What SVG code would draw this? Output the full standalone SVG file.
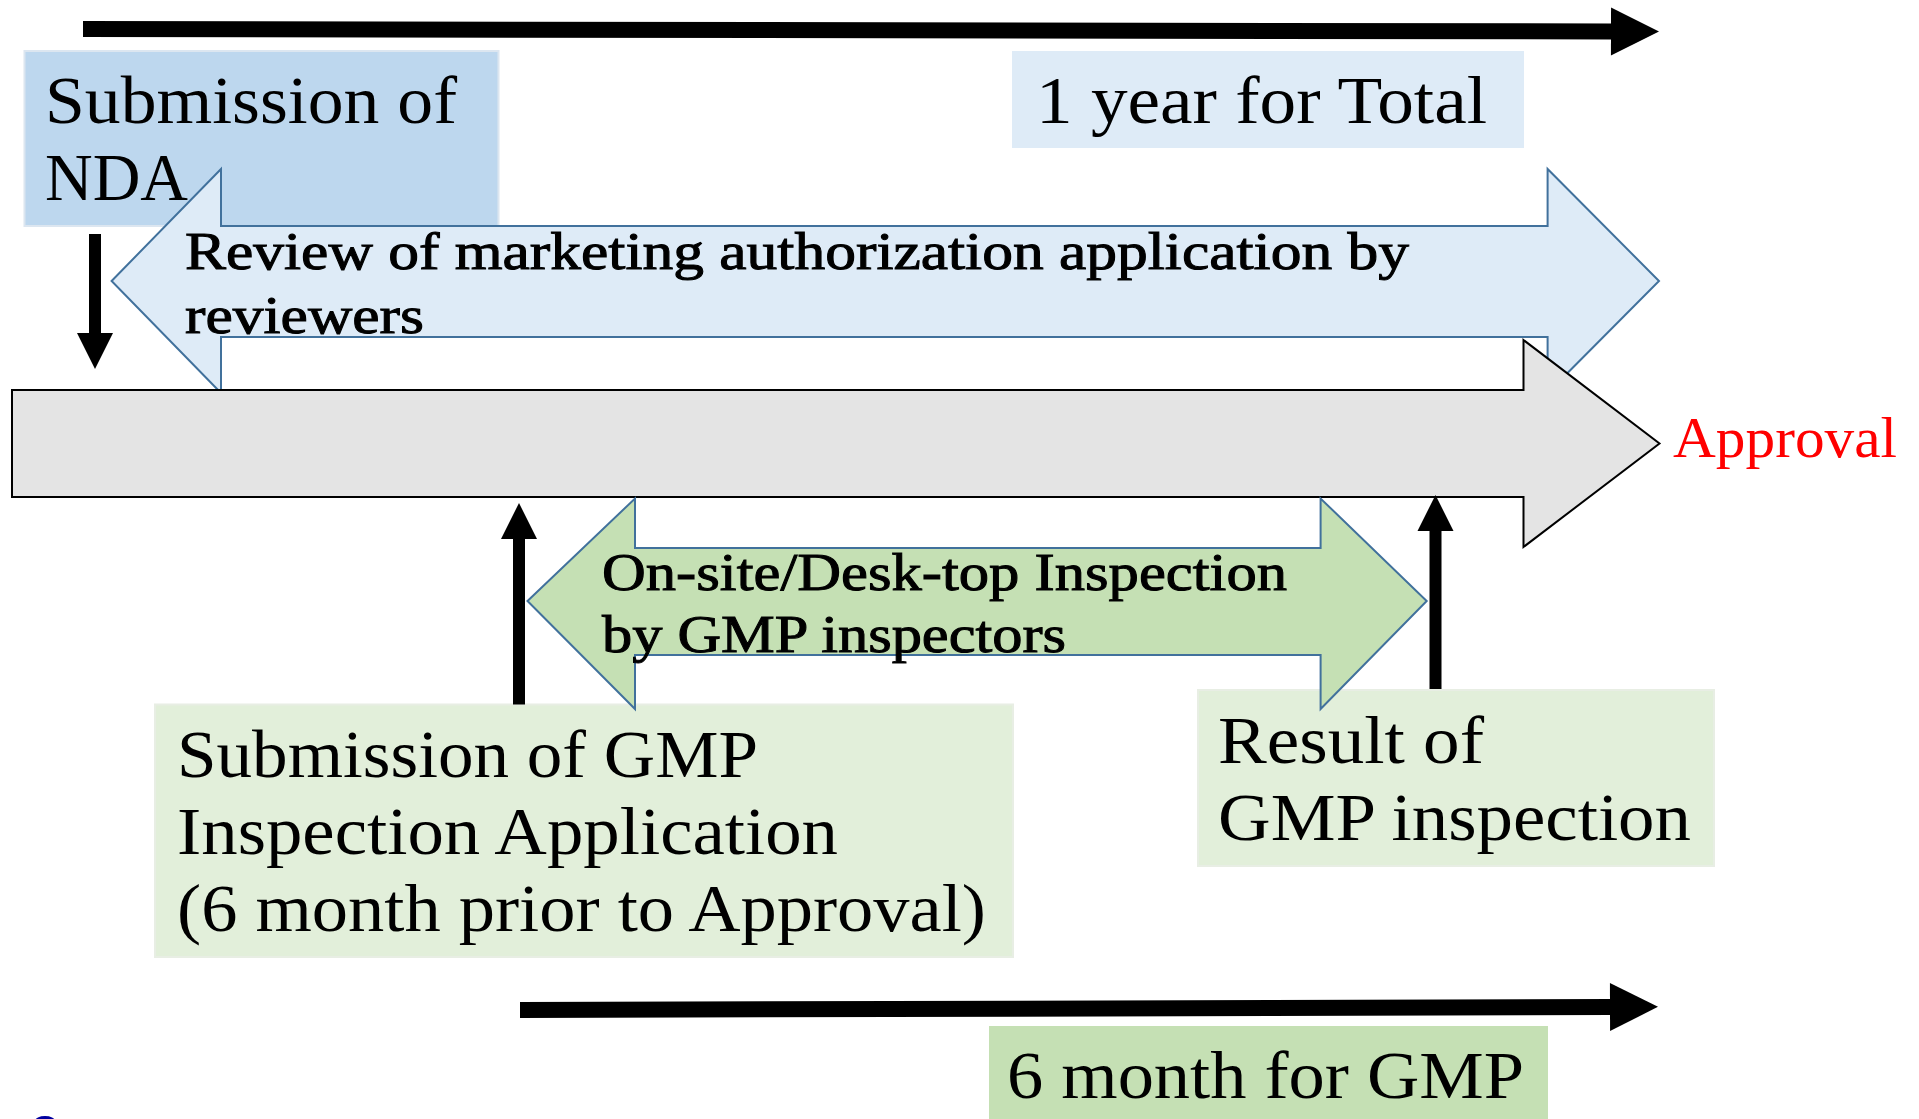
<svg xmlns="http://www.w3.org/2000/svg" width="1919" height="1119" viewBox="0 0 1919 1119">
<style>
.t{font-family:"Liberation Serif","Times New Roman",serif;font-size:68px;fill:#000}
.b{font-family:"Liberation Serif","Times New Roman",serif;font-size:53px;fill:#000;stroke:#000;stroke-width:1}
.blk{stroke:#000;fill:none}
</style>
<defs>
<marker id="ah" markerUnits="strokeWidth" markerWidth="3" markerHeight="3" refX="0" refY="1.5" orient="auto" overflow="visible">
<path d="M0,0 L3,1.5 L0,3 z" fill="#000"/>
</marker>
</defs>
<rect width="1919" height="1119" fill="#fff"/>

<g id="nda">
<rect x="24.5" y="51" width="474" height="175" fill="#BDD7EE" stroke="#DCE6F0" stroke-width="2"/>
</g>
<g id="total">
<rect x="1012" y="51" width="512" height="97" fill="#DEEBF7"/>
<text class="t" x="1036" y="123" textLength="451" lengthAdjust="spacingAndGlyphs">1 year for Total</text>
</g>
<g id="review">
<polygon points="111.6,281 221,169 221,226 1547.6,226 1547.6,169 1659,281 1547.6,393 1547.6,337 221,337 221,393" fill="#DEEBF7" stroke="#41719C" stroke-width="2"/>
<text class="b" x="185" y="269" textLength="1224" lengthAdjust="spacingAndGlyphs">Review of marketing authorization application by</text>
<text class="b" x="185" y="333" textLength="239" lengthAdjust="spacingAndGlyphs">reviewers</text>
</g>
<g id="nda-text">
<text class="t" x="45" y="123" textLength="412" lengthAdjust="spacingAndGlyphs">Submission of</text>
<text class="t" x="45" y="200" textLength="143" lengthAdjust="spacingAndGlyphs">NDA</text>
</g>
<g id="timeline">
<polygon points="12,390 1523.5,390 1523.5,340 1659.5,443.5 1523.5,547 1523.5,497 12,497" fill="#E4E4E4" stroke="#000" stroke-width="2"/>
</g>
<g id="approval">
<text x="1673" y="457" font-family="Liberation Serif, Times New Roman, serif" font-size="56" fill="#FF0000" textLength="224" lengthAdjust="spacingAndGlyphs">Approval</text>
</g>
<g id="gmp-submission">
<rect x="155" y="704.5" width="858" height="252.5" fill="#E2EFDA" stroke="#E8EEE4" stroke-width="2"/>
<text class="t" x="177" y="777" textLength="581" lengthAdjust="spacingAndGlyphs">Submission of GMP</text>
<text class="t" x="177" y="854" textLength="661" lengthAdjust="spacingAndGlyphs">Inspection Application</text>
<text class="t" x="177" y="931" textLength="809" lengthAdjust="spacingAndGlyphs">(6 month prior to Approval)</text>
</g>
<g id="gmp-result">
<rect x="1198" y="690" width="516" height="176" fill="#E2EFDA" stroke="#E8EEE4" stroke-width="2"/>
<text class="t" x="1218" y="763" textLength="266" lengthAdjust="spacingAndGlyphs">Result of</text>
<text class="t" x="1218" y="840" textLength="473" lengthAdjust="spacingAndGlyphs">GMP inspection</text>
</g>
<g id="inspection">
<polygon points="527.5,601 635,498.5 635,548 1320.6,548 1320.6,498.5 1426.7,601 1320.6,709 1320.6,655 635,655 635,709" fill="#C5E0B4" stroke="#41719C" stroke-width="2"/>
<text class="b" x="602" y="590" textLength="685" lengthAdjust="spacingAndGlyphs">On-site/Desk-top Inspection</text>
<text class="b" x="602" y="652" textLength="464" lengthAdjust="spacingAndGlyphs">by GMP inspectors</text>
</g>
<g id="gmp-period">
<rect x="989" y="1026" width="559" height="100" fill="#C5E0B4"/>
<text class="t" x="1007" y="1098" textLength="517" lengthAdjust="spacingAndGlyphs">6 month for GMP</text>
</g>
<g id="connectors">
<line class="blk" x1="83" y1="29" x2="1611" y2="31.5" stroke-width="16" marker-end="url(#ah)"/>
<line class="blk" x1="520" y1="1010" x2="1610" y2="1007" stroke-width="16" marker-end="url(#ah)"/>
<line class="blk" x1="95" y1="234" x2="95" y2="333" stroke-width="12" marker-end="url(#ah)"/>
<line class="blk" x1="519" y1="704.5" x2="519" y2="539" stroke-width="12" marker-end="url(#ah)"/>
<line class="blk" x1="1435.5" y1="689" x2="1435.5" y2="531" stroke-width="12" marker-end="url(#ah)"/>
</g>
<ellipse cx="45" cy="1121" rx="10" ry="5" fill="#0000A0"/>
</svg>
